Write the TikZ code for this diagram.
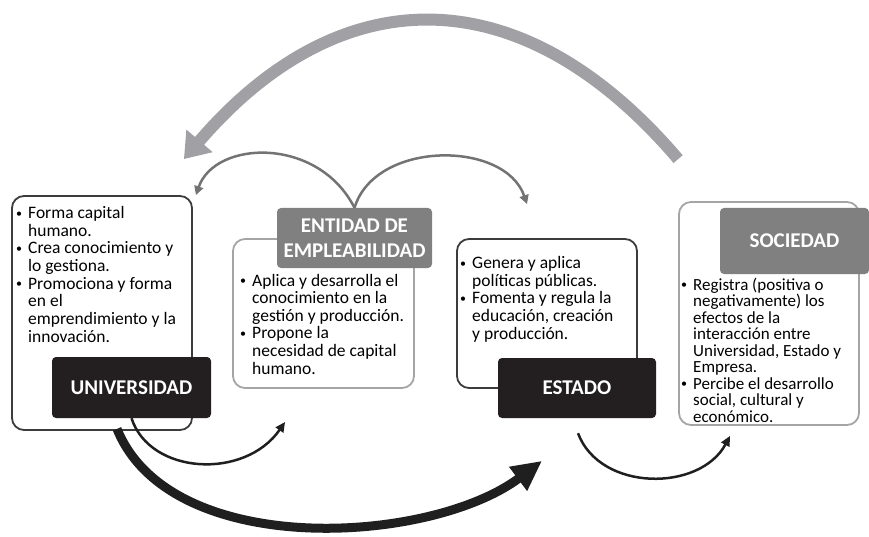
\documentclass[tikz,border=0pt]{standalone}
\usepackage{fontspec}
\setmainfont{Carlito}
\usetikzlibrary{arrows.meta}
\definecolor{bigarc}{RGB}{160,160,165}
\definecolor{thinarc}{RGB}{115,115,115}
\definecolor{darkfill}{RGB}{35,31,32}
\definecolor{grayfill}{RGB}{128,128,128}
\definecolor{darkedge}{RGB}{60,60,60}
\definecolor{lightedge}{RGB}{165,165,165}
\newcommand{\bul}{\makebox[12pt][l]{\fontsize{12}{12}\selectfont\raisebox{1.5pt}{\textbullet}}}
\newcommand{\ind}{\hspace*{12pt}}
\tikzset{
  frame/.style={draw=darkedge, line width=1.8pt, rounded corners=12pt, fill=white, inner sep=0pt},
  softframe/.style={frame, draw=lightedge},
  darklab/.style={fill=darkfill, text=white, rounded corners=4pt, inner sep=0pt, align=center,
    font=\bfseries\fontsize{21}{25}\selectfont},
  graylab/.style={darklab, fill=grayfill},
  txt/.style={anchor=base west, align=left, inner sep=0pt, font=\fontsize{17.5}{17.6}\selectfont},
  thinarrow/.style={draw=thinarc, line width=2.5pt, -{Triangle[length=9pt,width=9pt]}},
  blackarrow/.style={draw=black!88, line width=2.5pt, -{Triangle[length=10pt,width=9pt]}}
}
\begin{document}
\begin{tikzpicture}[x=1pt,y=1pt]
\useasboundingbox (0,0) rectangle (869,536);
% boxes
\node[frame, minimum width=180pt, minimum height=234pt] (uni) at (102,223) {};
\node[softframe, minimum width=181pt, minimum height=149pt] (ent) at (323.5,222.5) {};
\node[frame, minimum width=180pt, minimum height=149pt] (est) at (547,222.5) {};
\node[softframe, minimum width=180pt, minimum height=223pt] (soc) at (769,222.5) {};
% texts (anchored on their last line)
\node[txt] (unitxt) at (16,194) {\bul Forma capital\\ \ind humano.\\ \bul Crea conocimiento y\\ \ind lo gestiona.\\
  \bul Promociona y forma\\ \ind en el\\ \ind emprendimiento y la\\ \ind innovación.};
\node[txt] (enttxt) at (240,162) {\bul Aplica y desarrolla el\\ \ind conocimiento en la\\ \ind gestión y producción.\\
  \bul Propone la\\ \ind necesidad de capital\\ \ind humano.};
\node[txt] (esttxt) at (460,197) {\bul Genera y aplica\\ \ind políticas públicas.\\ \bul Fomenta y regula la\\
  \ind educación, creación\\ \ind y producción.};
\node[txt, font=\fontsize{17}{16.5}\selectfont] (soctxt) at (681,114) {\bul Registra (positiva o\\ \ind negativamente) los\\
  \ind efectos de la\\ \ind interacción entre\\ \ind Universidad, Estado y\\ \ind Empresa.\\
  \bul Percibe el desarrollo\\ \ind social, cultural y\\ \ind económico.};
% labels
\node[darklab, minimum width=159pt, minimum height=61pt] (unilab) at (131.5,148.5) {UNIVERSIDAD};
\node[graylab, minimum width=155pt, minimum height=60pt] (entlab) at (354.5,298) {ENTIDAD DE\\EMPLEABILIDAD};
\node[darklab, minimum width=158pt, minimum height=60pt] (estlab) at (577,148) {ESTADO};
\node[graylab, minimum width=149pt, minimum height=66pt] (soclab) at (794.5,295) {SOCIEDAD};
% top arcs
\draw[bigarc, line width=12pt, -{Triangle[length=24pt,width=33pt]}]
  ([yshift=42pt]soc.north west) .. controls (522,560) and (341,560) .. ([xshift=-9pt,yshift=36pt]uni.north east);
\draw[thinarrow] (entlab.north) .. controls (318,400) and (215,396) .. ([xshift=3pt]uni.north east);
\draw[thinarrow] (entlab.north) .. controls (375,396) and (505,396) .. ([xshift=-20pt,yshift=34pt]est.north);
% bottom arcs
\draw[blackarrow] (unilab.south) .. controls (150,61) and (245,56) .. ([xshift=53pt,yshift=-33pt]ent.south west);
\draw[draw=black!88, line width=9pt, -{Triangle[length=30pt,width=28pt]}]
  ([xshift=15pt,yshift=2pt]uni.south) .. controls (170,-24) and (430,-9) .. ([xshift=-5pt,yshift=-72pt]est.south);
\draw[blackarrow] ([xshift=1pt,yshift=-15pt]estlab.south) .. controls (600,44) and (700,44) .. ([xshift=-39pt,yshift=-10pt]soc.south);
\end{tikzpicture}
\end{document}
